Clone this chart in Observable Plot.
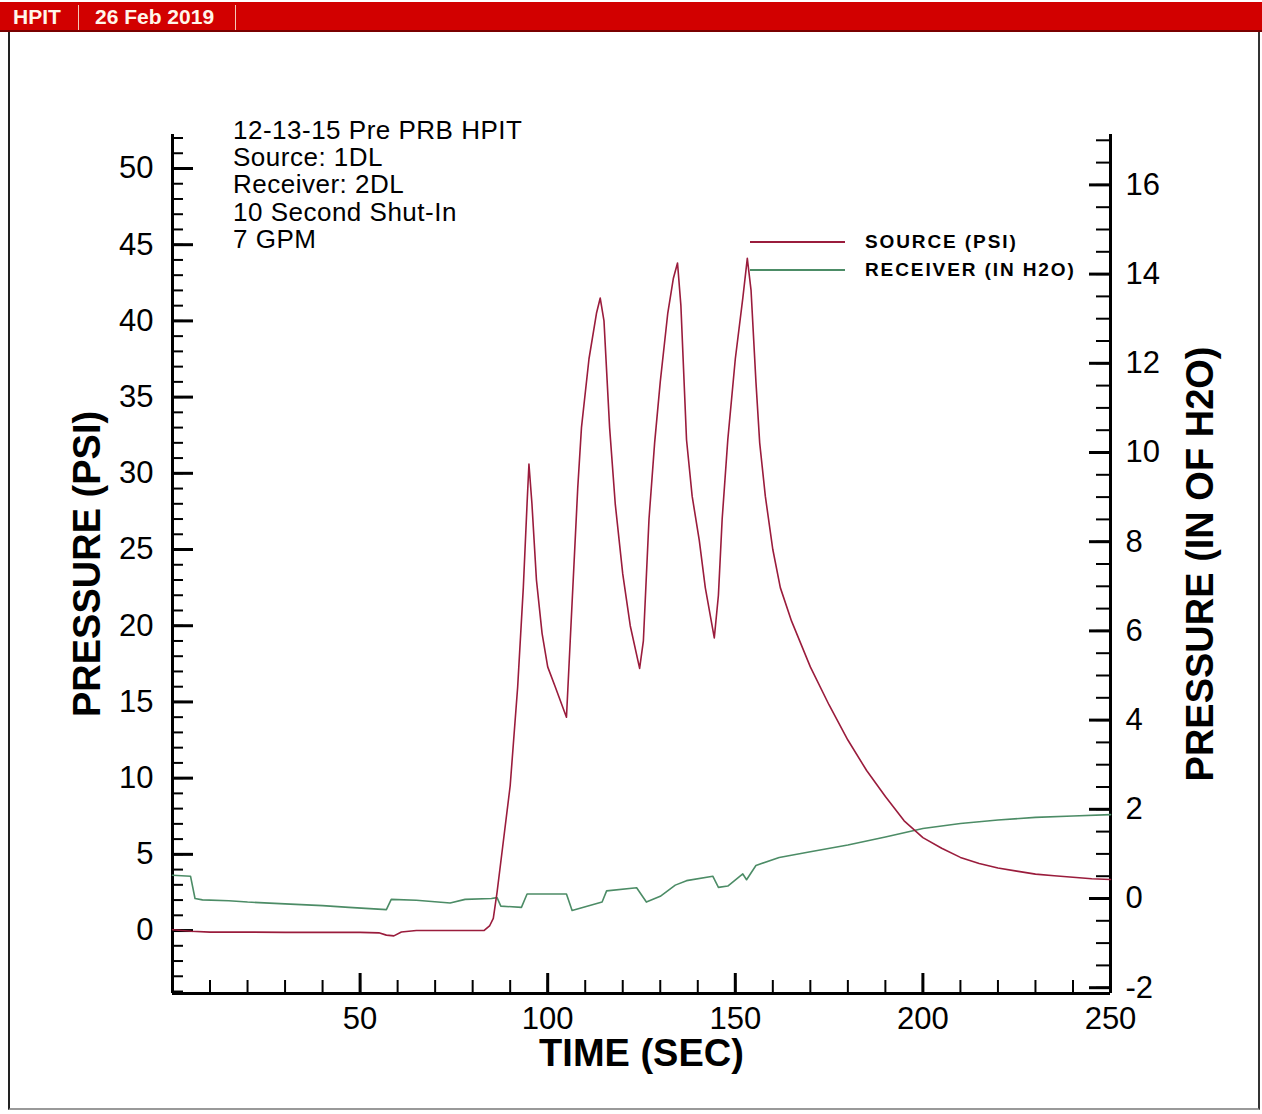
<!DOCTYPE html>
<html><head><meta charset="utf-8">
<script src="https://cdn.jsdelivr.net/npm/d3@7"></script>
<script src="https://cdn.jsdelivr.net/npm/@observablehq/plot@0.6"></script>
<style>
html,body{margin:0;padding:0;background:#fff;overflow:hidden;}
#page{position:relative;width:1262px;height:1114px;font-family:"Liberation Sans",Arial,sans-serif;}
#header{position:absolute;left:0;top:2px;width:1262px;height:28px;background:#d20000;border-bottom:2px solid #7a0000;}
#header span{position:absolute;top:4px;color:#fff6ea;font-weight:bold;font-size:21px;line-height:22px;}
#header .sep{position:absolute;top:3px;width:1px;height:25px;background:#f4c8b8;}
#frame{position:absolute;left:8px;top:32px;width:1248px;height:1076px;border-left:2px solid #222;border-right:2px solid #333;border-bottom:2px solid #999;box-sizing:content-box;}
#chart{position:absolute;left:0;top:32px;}
#notes{position:absolute;left:233px;top:117px;font-size:26px;line-height:27.2px;color:#000;letter-spacing:0.5px;}
.leg{position:absolute;font-weight:bold;font-size:19px;letter-spacing:1.9px;color:#000;line-height:20px;}
.legline{position:absolute;height:2px;}
</style>
</head><body>
<div id="page">
  <div id="header">
    <span style="left:13px">HPIT</span><div class="sep" style="left:78px"></div>
    <span style="left:95px">26 Feb 2019</span><div class="sep" style="left:235px"></div>
  </div>
  <div id="frame"></div>
  <div id="chart"></div>
  <div id="notes"></div>
  <div id="legend"></div>
</div>
<script>
// ---- data ----
const sourceTime = [0,5,10,20,30,40,50,55,57,59,61,65,70,75,80,83,84.5,85.5,86.5,88,90,92,93.5,94.5,95,95.8,97,98.5,100,102,105,106,107,108,109,111,113,114,115,116.5,118,120,122,124.5,125.5,127,128.5,130,132,133.5,134.6,135.5,137,138.5,140.4,142,144.4,145.5,146.5,148,150,152,153.2,154.2,155.5,156.5,158,160,162,165,170,175,180,185,190,195,200,205,210,215,220,225,230,235,240,245,250];
const sourcePsi  = [0.05,-0.05,-0.1,-0.1,-0.12,-0.12,-0.12,-0.15,-0.3,-0.35,-0.1,0,0,0,0,0,0.3,0.8,2.5,5.5,9.5,16,22.5,28,30.6,28,23,19.5,17.3,16,14.0,19,24,29,33,37.5,40.5,41.5,40,33,28,23.4,20,17.2,19,27,32,36,40.5,42.8,43.8,41,32.2,28.5,25.6,22.5,19.2,22,27,32.2,37.5,41.5,44.1,42,36,32,28.5,25,22.5,20.3,17.3,14.8,12.5,10.5,8.8,7.2,6.1,5.4,4.8,4.4,4.1,3.9,3.7,3.6,3.5,3.4,3.35];

const receiverTime = [0,4.8,6,8,15,20,30,40,47,57,58.3,65,74,78,85,86.5,87.5,93,94.5,105,106.5,114.5,115.7,123.7,126.3,130,134,137,144,145.5,148,152,153,155.5,161.7,170,180,190,200,210,220,230,240,250];
const receiverInH2O = [0.52,0.5,0.0,-0.03,-0.05,-0.08,-0.12,-0.16,-0.2,-0.25,-0.02,-0.04,-0.1,-0.02,0.0,0.02,-0.17,-0.2,0.1,0.1,-0.27,-0.08,0.17,0.24,-0.08,0.05,0.3,0.4,0.5,0.25,0.28,0.55,0.42,0.74,0.92,1.05,1.2,1.38,1.57,1.68,1.76,1.82,1.85,1.88];

const xTickLabels = [50,100,150,200,250];
const leftTickLabels = [0,5,10,15,20,25,30,35,40,45,50];
const rightTickLabels = [-2,0,2,4,6,8,10,12,14,16];

const notes = ["12-13-15 Pre PRB HPIT","Source: 1DL","Receiver: 2DL","10 Second Shut-In","7 GPM"];
const seriesNames = ["SOURCE (PSI)","RECEIVER (IN H2O)"];
const seriesColors = ["#9a1c3c","#4c8c66"];

// ---- scales ----
const xDomain = [0,250];
const yDomain = [-4.13,52.23];
const rightDomain = [-2.13,17.13];
// right axis (in H2O) expressed in left-axis units (psi positions)
const toLeft = r => yDomain[0] + (r - rightDomain[0]) * (yDomain[1]-yDomain[0])/(rightDomain[1]-rightDomain[0]);
const fromLeft = v => rightDomain[0] + (v - yDomain[0]) * (rightDomain[1]-rightDomain[0])/(yDomain[1]-yDomain[0]);

const W = 1262, H = 1082;
const mL = 172, mR = 152, mT = 102, mB = 121;
const pw = W - mL - mR, ph = H - mT - mB;

const sourceData = sourceTime.map((t,i)=>({t, v: sourcePsi[i]}));
const receiverData = receiverTime.map((t,i)=>({t, v: toLeft(receiverInH2O[i])}));

const leftMinor = d3.range(-4, 53, 1);
const rightMinor = d3.range(-2, 17.01, 0.5).map(toLeft);
const rightMajor = rightTickLabels.map(toLeft);
const xMinor = d3.range(0, 251, 10);

const chart = Plot.plot({
  width: W, height: H,
  marginLeft: mL, marginRight: mR, marginTop: mT, marginBottom: mB,
  x: {domain: xDomain},
  y: {domain: yDomain},
  style: {fontFamily: '"Liberation Sans", Arial, sans-serif', fontSize: "31px", color: "#000", background: "transparent"},
  marks: [
    // minor ticks
    Plot.ruleY(leftMinor, {y: d=>d, insetRight: pw-11, stroke: "#000", strokeWidth: 2}),
    Plot.ruleY(rightMinor, {y: d=>d, insetLeft: pw-14, stroke: "#000", strokeWidth: 2}),
    Plot.ruleX(xMinor, {x: d=>d, insetTop: ph-13, stroke: "#000", strokeWidth: 2}),
    // major ticks
    Plot.ruleY(leftTickLabels, {y: d=>d, insetRight: pw-21, stroke: "#000", strokeWidth: 3}),
    Plot.ruleY(rightMajor, {y: d=>d, insetLeft: pw-21, stroke: "#000", strokeWidth: 3}),
    Plot.ruleX(xTickLabels, {x: d=>d, insetTop: ph-20, stroke: "#000", strokeWidth: 3}),
    // axis lines
    Plot.ruleX([xDomain[0]], {stroke: "#000", strokeWidth: 3}),
    Plot.ruleX([xDomain[1]], {stroke: "#000", strokeWidth: 3}),
    Plot.ruleY([yDomain[0]], {stroke: "#000", strokeWidth: 3}),
    // series
    Plot.line(receiverData, {x: "t", y: "v", stroke: seriesColors[1], strokeWidth: 1.6}),
    Plot.line(sourceData, {x: "t", y: "v", stroke: seriesColors[0], strokeWidth: 1.6}),
    // tick labels
    Plot.axisY({anchor: "left", ticks: leftTickLabels, tickSize: 0, tickPadding: 19, label: null, fontSize: 31}),
    Plot.axisY({anchor: "right", ticks: rightMajor, tickFormat: d => String(Math.round(fromLeft(d))), tickSize: 0, tickPadding: 15, label: null, fontSize: 31}),
    Plot.axisX({anchor: "bottom", ticks: xTickLabels, tickSize: 0, tickPadding: 13, label: null, fontSize: 31}),
    // axis titles
    Plot.text(["PRESSURE (PSI)"], {frameAnchor: "left", text: d=>d, rotate: -90, dx: -85, textAnchor: "middle", lineAnchor: "middle", fontSize: 38, fontWeight: "bold"}),
    Plot.text(["PRESSURE (IN OF H2O)"], {frameAnchor: "right", text: d=>d, rotate: -90, dx: 90, textAnchor: "middle", lineAnchor: "middle", fontSize: 38, fontWeight: "bold"}),
    Plot.text(["TIME (SEC)"], {frameAnchor: "bottom", text: d=>d, dy: 60, textAnchor: "middle", lineAnchor: "middle", fontSize: 38, fontWeight: "bold"})
  ]
});
document.getElementById("chart").appendChild(chart);

// annotation
document.getElementById("notes").innerHTML = notes.map(s=>`<div>${s}</div>`).join("");
// legend
const leg = document.getElementById("legend");
seriesNames.forEach((name,i)=>{
  const y = 242 + i*28;
  const l = document.createElement("div");
  l.className = "legline";
  l.style.cssText = `left:750px;top:${y-1}px;width:95px;background:${seriesColors[i]}`;
  leg.appendChild(l);
  const t = document.createElement("div");
  t.className = "leg";
  t.style.cssText = `left:865px;top:${y-10}px`;
  t.textContent = name;
  leg.appendChild(t);
});
</script>
</body></html>
